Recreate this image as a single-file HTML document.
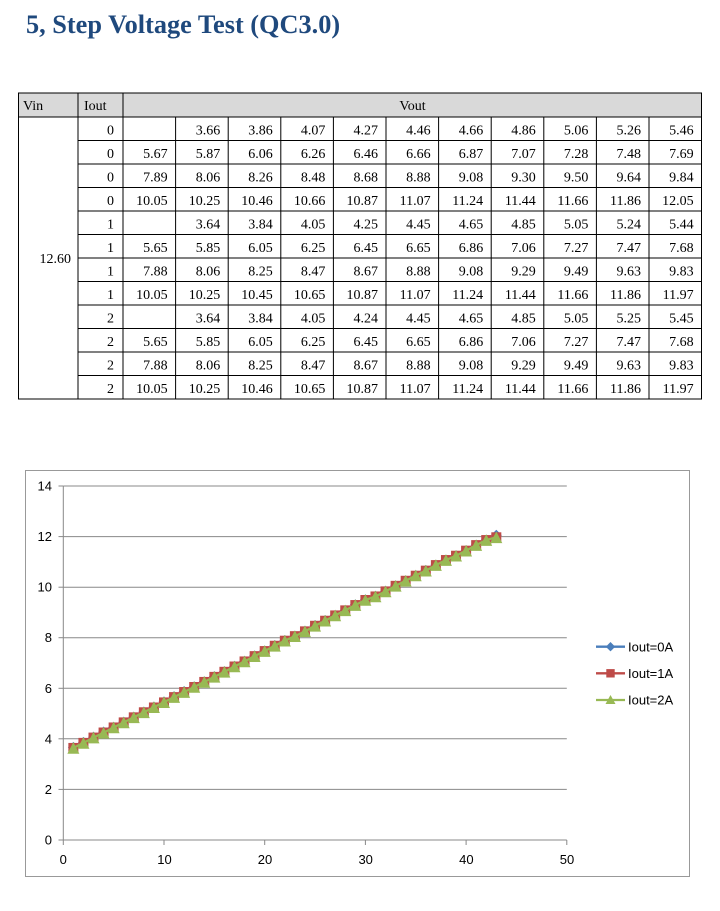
<!DOCTYPE html>
<html>
<head>
<meta charset="utf-8">
<style>
html,body{margin:0;padding:0;background:#fff;}
body{width:720px;height:911px;overflow:hidden;position:relative;}
svg{position:absolute;left:0;top:0;}
.t{font-family:"Liberation Serif","Times New Roman",serif;font-size:14px;fill:#000;}
.c{font-family:"Liberation Sans",Arial,sans-serif;font-size:13px;fill:#000;}
</style>
</head>
<body>
<svg width="720" height="911" viewBox="0 0 720 911" xmlns="http://www.w3.org/2000/svg">
<defs>
<marker id="mD" markerUnits="userSpaceOnUse" markerWidth="14" markerHeight="14" refX="7" refY="7" overflow="visible"><path d="M7 1.5 L12.5 7 L7 12.5 L1.5 7Z" fill="#4A7EBB"/></marker>
<marker id="mS" markerUnits="userSpaceOnUse" markerWidth="14" markerHeight="14" refX="7" refY="7" overflow="visible"><rect x="2" y="2" width="10" height="10" fill="#BE4B48"/></marker>
<marker id="mT" markerUnits="userSpaceOnUse" markerWidth="14" markerHeight="14" refX="7" refY="7" overflow="visible"><path d="M7 1.2 L13 12.8 L1 12.8Z" fill="#98B954"/></marker>
</defs>

<!-- Title -->
<text x="26" y="33" font-family="'Liberation Serif','Times New Roman',serif" font-weight="bold" font-size="26.3" fill="#1F497D">5, Step Voltage Test (QC3.0)</text>

<!-- Table header background -->
<rect x="18" y="93" width="684" height="24" fill="#D9D9D9"/>

<!-- Table lines -->
<g stroke="#000" stroke-width="1" fill="none">
<line x1="18" y1="93" x2="702" y2="93"/>
<line x1="18" y1="117" x2="702" y2="117"/>
<line x1="18" y1="399" x2="702" y2="399"/>
<line x1="78" y1="140.5" x2="702" y2="140.5"/>
<line x1="78" y1="164" x2="702" y2="164"/>
<line x1="78" y1="187.5" x2="702" y2="187.5"/>
<line x1="78" y1="211" x2="702" y2="211"/>
<line x1="78" y1="234.5" x2="702" y2="234.5"/>
<line x1="78" y1="258" x2="702" y2="258"/>
<line x1="78" y1="281.5" x2="702" y2="281.5"/>
<line x1="78" y1="305" x2="702" y2="305"/>
<line x1="78" y1="328.5" x2="702" y2="328.5"/>
<line x1="78" y1="352" x2="702" y2="352"/>
<line x1="78" y1="375.5" x2="702" y2="375.5"/>
<line x1="18.5" y1="93" x2="18.5" y2="399"/>
<line x1="78" y1="93" x2="78" y2="399"/>
<line x1="123" y1="93" x2="123" y2="399"/>
<line x1="175.6" y1="117" x2="175.6" y2="399"/>
<line x1="228.2" y1="117" x2="228.2" y2="399"/>
<line x1="280.8" y1="117" x2="280.8" y2="399"/>
<line x1="333.4" y1="117" x2="333.4" y2="399"/>
<line x1="386" y1="117" x2="386" y2="399"/>
<line x1="438.6" y1="117" x2="438.6" y2="399"/>
<line x1="491.2" y1="117" x2="491.2" y2="399"/>
<line x1="543.8" y1="117" x2="543.8" y2="399"/>
<line x1="596.4" y1="117" x2="596.4" y2="399"/>
<line x1="649" y1="117" x2="649" y2="399"/>
<line x1="701.5" y1="93" x2="701.5" y2="399"/>
</g>

<!-- Header text -->
<text class="t" x="23" y="110">Vin</text>
<text class="t" x="84" y="110">Iout</text>
<text class="t" x="412.5" y="110" text-anchor="middle">Vout</text>
<text class="t" x="71" y="263" text-anchor="end">12.60</text>

<!-- Table data -->
<g class="t" text-anchor="end">
<g transform="translate(0,134.5)">
<text x="114">0</text><text x="220.2">3.66</text><text x="272.8">3.86</text><text x="325.4">4.07</text><text x="378">4.27</text><text x="430.6">4.46</text><text x="483.2">4.66</text><text x="535.8">4.86</text><text x="588.4">5.06</text><text x="641">5.26</text><text x="693.6">5.46</text>
</g>
<g transform="translate(0,158)">
<text x="114">0</text><text x="167.6">5.67</text><text x="220.2">5.87</text><text x="272.8">6.06</text><text x="325.4">6.26</text><text x="378">6.46</text><text x="430.6">6.66</text><text x="483.2">6.87</text><text x="535.8">7.07</text><text x="588.4">7.28</text><text x="641">7.48</text><text x="693.6">7.69</text>
</g>
<g transform="translate(0,181.5)">
<text x="114">0</text><text x="167.6">7.89</text><text x="220.2">8.06</text><text x="272.8">8.26</text><text x="325.4">8.48</text><text x="378">8.68</text><text x="430.6">8.88</text><text x="483.2">9.08</text><text x="535.8">9.30</text><text x="588.4">9.50</text><text x="641">9.64</text><text x="693.6">9.84</text>
</g>
<g transform="translate(0,205)">
<text x="114">0</text><text x="167.6">10.05</text><text x="220.2">10.25</text><text x="272.8">10.46</text><text x="325.4">10.66</text><text x="378">10.87</text><text x="430.6">11.07</text><text x="483.2">11.24</text><text x="535.8">11.44</text><text x="588.4">11.66</text><text x="641">11.86</text><text x="693.6">12.05</text>
</g>
<g transform="translate(0,228.5)">
<text x="114">1</text><text x="220.2">3.64</text><text x="272.8">3.84</text><text x="325.4">4.05</text><text x="378">4.25</text><text x="430.6">4.45</text><text x="483.2">4.65</text><text x="535.8">4.85</text><text x="588.4">5.05</text><text x="641">5.24</text><text x="693.6">5.44</text>
</g>
<g transform="translate(0,252)">
<text x="114">1</text><text x="167.6">5.65</text><text x="220.2">5.85</text><text x="272.8">6.05</text><text x="325.4">6.25</text><text x="378">6.45</text><text x="430.6">6.65</text><text x="483.2">6.86</text><text x="535.8">7.06</text><text x="588.4">7.27</text><text x="641">7.47</text><text x="693.6">7.68</text>
</g>
<g transform="translate(0,275.5)">
<text x="114">1</text><text x="167.6">7.88</text><text x="220.2">8.06</text><text x="272.8">8.25</text><text x="325.4">8.47</text><text x="378">8.67</text><text x="430.6">8.88</text><text x="483.2">9.08</text><text x="535.8">9.29</text><text x="588.4">9.49</text><text x="641">9.63</text><text x="693.6">9.83</text>
</g>
<g transform="translate(0,299)">
<text x="114">1</text><text x="167.6">10.05</text><text x="220.2">10.25</text><text x="272.8">10.45</text><text x="325.4">10.65</text><text x="378">10.87</text><text x="430.6">11.07</text><text x="483.2">11.24</text><text x="535.8">11.44</text><text x="588.4">11.66</text><text x="641">11.86</text><text x="693.6">11.97</text>
</g>
<g transform="translate(0,322.5)">
<text x="114">2</text><text x="220.2">3.64</text><text x="272.8">3.84</text><text x="325.4">4.05</text><text x="378">4.24</text><text x="430.6">4.45</text><text x="483.2">4.65</text><text x="535.8">4.85</text><text x="588.4">5.05</text><text x="641">5.25</text><text x="693.6">5.45</text>
</g>
<g transform="translate(0,346)">
<text x="114">2</text><text x="167.6">5.65</text><text x="220.2">5.85</text><text x="272.8">6.05</text><text x="325.4">6.25</text><text x="378">6.45</text><text x="430.6">6.65</text><text x="483.2">6.86</text><text x="535.8">7.06</text><text x="588.4">7.27</text><text x="641">7.47</text><text x="693.6">7.68</text>
</g>
<g transform="translate(0,369.5)">
<text x="114">2</text><text x="167.6">7.88</text><text x="220.2">8.06</text><text x="272.8">8.25</text><text x="325.4">8.47</text><text x="378">8.67</text><text x="430.6">8.88</text><text x="483.2">9.08</text><text x="535.8">9.29</text><text x="588.4">9.49</text><text x="641">9.63</text><text x="693.6">9.83</text>
</g>
<g transform="translate(0,393)">
<text x="114">2</text><text x="167.6">10.05</text><text x="220.2">10.25</text><text x="272.8">10.46</text><text x="325.4">10.65</text><text x="378">10.87</text><text x="430.6">11.07</text><text x="483.2">11.24</text><text x="535.8">11.44</text><text x="588.4">11.66</text><text x="641">11.86</text><text x="693.6">11.97</text>
</g>
</g>

<!-- Chart frame -->
<rect x="25.5" y="470.5" width="664" height="406" fill="#fff" stroke="#999" stroke-width="1"/>

<!-- Gridlines -->
<g stroke="#888" stroke-width="1">
<line x1="63.3" y1="486" x2="566.8" y2="486"/>
<line x1="63.3" y1="536.6" x2="566.8" y2="536.6"/>
<line x1="63.3" y1="587.2" x2="566.8" y2="587.2"/>
<line x1="63.3" y1="637.7" x2="566.8" y2="637.7"/>
<line x1="63.3" y1="688.3" x2="566.8" y2="688.3"/>
<line x1="63.3" y1="738.8" x2="566.8" y2="738.8"/>
<line x1="63.3" y1="789.4" x2="566.8" y2="789.4"/>
<line x1="63.3" y1="840" x2="566.8" y2="840"/>
<line x1="63.3" y1="486" x2="63.3" y2="840"/>
<line x1="58.5" y1="486" x2="63.3" y2="486"/>
<line x1="58.5" y1="536.6" x2="63.3" y2="536.6"/>
<line x1="58.5" y1="587.2" x2="63.3" y2="587.2"/>
<line x1="58.5" y1="637.7" x2="63.3" y2="637.7"/>
<line x1="58.5" y1="688.3" x2="63.3" y2="688.3"/>
<line x1="58.5" y1="738.8" x2="63.3" y2="738.8"/>
<line x1="58.5" y1="789.4" x2="63.3" y2="789.4"/>
<line x1="58.5" y1="840" x2="63.3" y2="840"/>
<line x1="63.3" y1="840" x2="63.3" y2="845"/>
<line x1="164" y1="840" x2="164" y2="845"/>
<line x1="264.7" y1="840" x2="264.7" y2="845"/>
<line x1="365.4" y1="840" x2="365.4" y2="845"/>
<line x1="466.1" y1="840" x2="466.1" y2="845"/>
<line x1="566.8" y1="840" x2="566.8" y2="845"/>
</g>

<!-- Axis labels -->
<g class="c" text-anchor="end">
<text x="52" y="490.5">14</text>
<text x="52" y="541">12</text>
<text x="52" y="591.7">10</text>
<text x="52" y="642.2">8</text>
<text x="52" y="692.8">6</text>
<text x="52" y="743.3">4</text>
<text x="52" y="793.9">2</text>
<text x="52" y="844.5">0</text>
</g>
<g class="c" text-anchor="middle">
<text x="63.3" y="864">0</text>
<text x="164.5" y="864">10</text>
<text x="265" y="864">20</text>
<text x="365.7" y="864">30</text>
<text x="466.4" y="864">40</text>
<text x="567" y="864">50</text>
</g>

<!-- Series -->
<polyline fill="none" stroke="#4A7EBB" stroke-width="2.3" stroke-linejoin="round" marker-start="url(#mD)" marker-mid="url(#mD)" marker-end="url(#mD)"
points="73.37,747.43 83.44,742.39 93.51,737.08 103.58,732.02 113.65,727.21 123.72,722.15 133.79,717.09 143.86,712.03 153.93,706.97 164,701.92 174.07,696.61 184.14,691.55 194.21,686.75 204.28,681.69 214.35,676.63 224.42,671.57 234.49,666.26 244.56,661.2 254.63,655.89 264.7,650.83 274.77,645.52 284.84,640.46 294.91,636.16 304.98,631.1 315.05,625.54 325.12,620.48 335.19,615.42 345.26,610.37 355.33,604.8 365.4,599.74 375.47,596.2 385.54,591.14 395.61,585.84 405.68,580.78 415.75,575.47 425.82,570.41 435.89,565.1 445.96,560.04 456.03,555.74 466.1,550.68 476.17,545.12 486.24,540.06 496.31,535.26"/>
<polyline fill="none" stroke="#BE4B48" stroke-width="2.3" stroke-linejoin="round" marker-start="url(#mS)" marker-mid="url(#mS)" marker-end="url(#mS)"
points="73.37,747.94 83.44,742.89 93.51,737.58 103.58,732.52 113.65,727.46 123.72,722.40 133.79,717.34 143.86,712.29 153.93,707.48 164,702.42 174.07,697.11 184.14,692.05 194.21,687 204.28,681.94 214.35,676.88 224.42,671.82 234.49,666.51 244.56,661.45 254.63,656.14 264.7,651.08 274.77,645.77 284.84,640.71 294.91,636.16 304.98,631.36 315.05,625.79 325.12,620.74 335.19,615.42 345.26,610.37 355.33,605.06 365.4,600 375.47,596.46 385.54,591.40 395.61,585.84 405.68,580.78 415.75,575.72 425.82,570.66 435.89,565.10 445.96,560.04 456.03,555.74 466.1,550.68 476.17,545.12 486.24,540.06 496.31,537.28"/>
<polyline fill="none" stroke="#98B954" stroke-width="2.3" stroke-linejoin="round" marker-start="url(#mT)" marker-mid="url(#mT)" marker-end="url(#mT)"
points="73.37,747.94 83.44,742.89 93.51,737.58 103.58,732.77 113.65,727.46 123.72,722.40 133.79,717.34 143.86,712.29 153.93,707.23 164,702.17 174.07,697.11 184.14,692.05 194.21,687 204.28,681.94 214.35,676.88 224.42,671.82 234.49,666.51 244.56,661.45 254.63,656.14 264.7,651.08 274.77,645.77 284.84,640.71 294.91,636.16 304.98,631.36 315.05,625.79 325.12,620.74 335.19,615.42 345.26,610.37 355.33,605.06 365.4,600 375.47,596.46 385.54,591.40 395.61,585.84 405.68,580.78 415.75,575.47 425.82,570.66 435.89,565.10 445.96,560.04 456.03,555.74 466.1,550.68 476.17,545.12 486.24,540.06 496.31,537.28"/>

<!-- Legend -->
<line x1="596" y1="646.7" x2="625" y2="646.7" stroke="#4A7EBB" stroke-width="2.3"/>
<path d="M610.5 642 L615.2 646.7 L610.5 651.4 L605.8 646.7Z" fill="#4A7EBB"/>
<line x1="596" y1="673.3" x2="625" y2="673.3" stroke="#BE4B48" stroke-width="2.3"/>
<rect x="606.3" y="669.1" width="8.4" height="8.4" fill="#BE4B48"/>
<line x1="596" y1="700" x2="625" y2="700" stroke="#98B954" stroke-width="2.3"/>
<path d="M610.5 695 L615.5 704 L605.5 704Z" fill="#98B954"/>
<g class="c">
<text x="628" y="651.3">Iout=0A</text>
<text x="628" y="677.9">Iout=1A</text>
<text x="628" y="704.6">Iout=2A</text>
</g>
</svg>
</body>
</html>
